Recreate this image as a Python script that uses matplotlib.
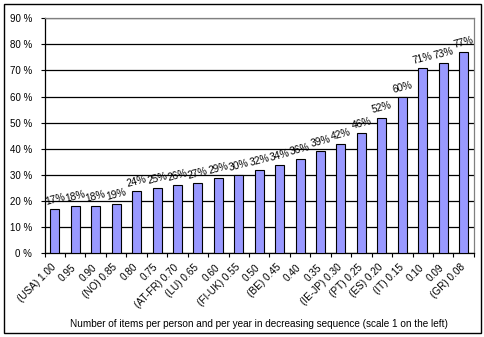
import matplotlib
matplotlib.use("Agg")
import matplotlib.pyplot as plt
from matplotlib.patches import Rectangle
from matplotlib.transforms import ScaledTranslation
import numpy as np

categories = ["(USA) 1.00", "0.95", "0.90", "(NO) 0.85", "0.80", "0.75", "(AT-FR) 0.70",
              "(LU) 0.65", "0.60", "(FI-UK) 0.55", "0.50", "(BE) 0.45", "0.40", "0.35",
              "(IE-JP) 0.30", "(PT) 0.25", "(ES) 0.20", "(IT) 0.15", "0.10", "0.09", "(GR) 0.08"]
values = [17, 18, 18, 19, 24, 25, 26, 27, 29, 30, 32, 34, 36, 39, 42, 46, 52, 60, 71, 73, 77]
yticks = [0, 10, 20, 30, 40, 50, 60, 70, 80, 90]

plt.rcParams['font.family'] = ['Liberation Sans', 'DejaVu Sans']

fig = plt.figure(figsize=(4.85, 3.37), dpi=100)
ax = fig.add_axes([0.092, 0.248, 0.885, 0.698])

x = np.arange(len(values))
ax.bar(x, values, width=0.44, color="#9999FF", edgecolor="black", linewidth=0.8, zorder=3)

for xi, v in zip(x, values):
    ax.text(xi, v + 0.8, f"{v}%", ha="center", va="bottom", fontsize=7.3, rotation=15, zorder=4)

ax.set_xlim(-0.5, len(values) - 0.5)
ax.set_ylim(0, 90)
ax.set_yticks(yticks)
ax.set_yticklabels([f"{t} %" for t in yticks], fontsize=7)
ax.yaxis.grid(True, color="black", linewidth=0.9, zorder=0)
ax.set_axisbelow(True)

ax.set_xticks(x)
ax.set_xticklabels(categories, rotation=45, ha="right", rotation_mode="anchor", fontsize=7.2)
ax.tick_params(axis="x", length=0, pad=4)
offset = ScaledTranslation(-4 / 100, -3 / 100, fig.dpi_scale_trans)
for lbl in ax.get_xticklabels():
    lbl.set_transform(lbl.get_transform() + offset)
ax.set_xticks(np.arange(-0.5, len(values)), minor=True)
ax.tick_params(axis="x", which="minor", length=3, width=0.8, direction="out")
ax.tick_params(axis="y", length=3, width=0.8, direction="out", pad=6)

for s in ["top", "right"]:
    ax.spines[s].set_color("#808080")
    ax.spines[s].set_linewidth(0.9)
for s in ["left", "bottom"]:
    ax.spines[s].set_color("black")
    ax.spines[s].set_linewidth(0.9)

ax.set_xlabel("Number of items per person and per year in decreasing sequence (scale 1 on the left)",
              fontsize=7.2, labelpad=7)

fig.patches.append(Rectangle((4/485, 4/337), 477/485, 329/337, transform=fig.transFigure,
                             fill=False, edgecolor="black", linewidth=1))

fig.savefig("out.png", dpi=100)
